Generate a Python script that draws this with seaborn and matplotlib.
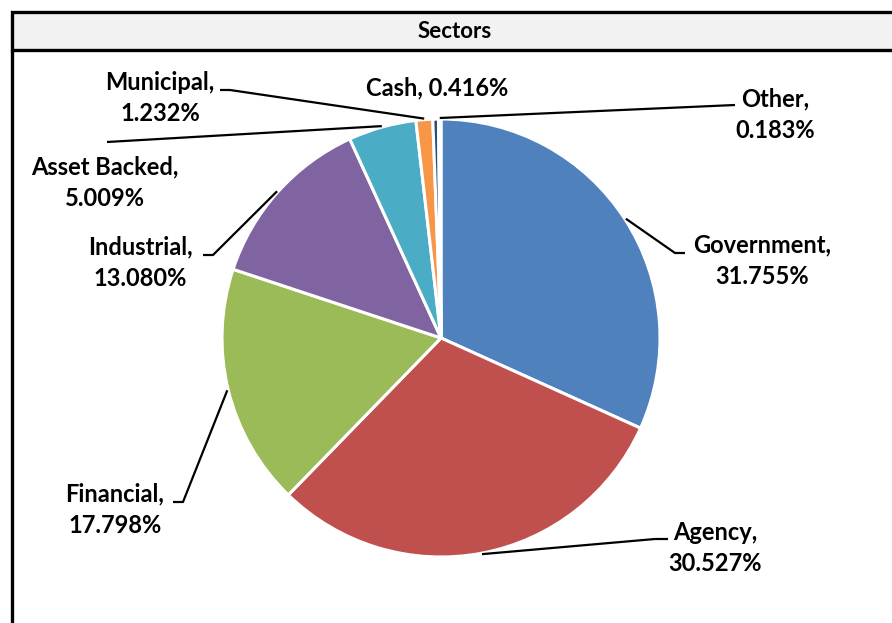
import numpy as np
import matplotlib
matplotlib.use("Agg")
import matplotlib.pyplot as plt
from matplotlib.patches import Rectangle
import seaborn as sns

# Sector allocation (%)
sectors = ["Government", "Agency", "Financial", "Industrial",
           "Asset Backed", "Municipal", "Cash", "Other"]
weights = [31.755, 30.527, 17.798, 13.080, 5.009, 1.232, 0.416, 0.183]
slice_colors = ["#4F81BD", "#C0504D", "#9BBB59", "#8064A2",
                "#4BACC6", "#F79646", "#2C4D75", "#772C2A"]
title = "Sectors"

sns.set_theme(style="white")
plt.rcParams["font.family"] = ["Lato", "DejaVu Sans"]

W, H = 892, 623
fig = plt.figure(figsize=(W / 100, H / 100), dpi=100)
ax = fig.add_axes([0, 0, 1, 1])

# pixel-like canvas, y measured downward from the top edge
def fy(y):
    return H - y

# frame: header band and left border
ax.add_patch(Rectangle((12, fy(50)), W + 20, 38, facecolor="#F2F2F2",
                       edgecolor="black", linewidth=2.4, zorder=1))
ax.plot([12, 12], [fy(50), -5], color="black", linewidth=2.4, zorder=1)
ax.text(455, fy(32), title, ha="center", va="center", fontsize=16,
        fontweight="bold", color="black", zorder=2)

cx, cy, R = 441, fy(338), 219
palette = sns.color_palette(slice_colors)
wedges, _ = ax.pie(weights, colors=palette, startangle=90, counterclock=False,
                   center=(cx, cy), radius=R, frame=True,
                   wedgeprops=dict(edgecolor="white", linewidth=2.2))

# label blocks: (text centre, elbow point, tail point or None)
layout = {
    "Government":   ((762, 261), (675, 253), (685, 253)),
    "Agency":       ((715, 548), (655, 539), (668, 539)),
    "Financial":    ((115, 510), (183, 502), (173, 502)),
    "Industrial":   ((140, 263), (213, 255), (203, 255)),
    "Asset Backed": ((105, 183), (107, 142), None),
    "Municipal":    ((160, 98), (230, 90), (220, 90)),
    "Cash":         ((437, 88), None, None),
    "Other":        ((775, 115), (735, 105), None),
}

total = sum(weights)
start = 90.0
for name, w in zip(sectors, weights):
    span = w / total * 360.0
    mid = np.deg2rad(start - span / 2)
    start -= span
    (tx, ty), elbow, tail = layout[name]
    if name == "Cash":
        txt = f"{name}, {w:.3f}%"
    else:
        txt = f"{name},\n{w:.3f}%"
    ax.text(tx, fy(ty), txt, ha="center", va="center", fontsize=17,
            fontweight="bold", color="black", linespacing=1.45, zorder=5)
    if elbow is not None:
        ax_x = cx + (R + 1) * np.cos(mid)
        ax_y = cy + (R + 1) * np.sin(mid)
        xs = [ax_x, elbow[0]]
        ys = [ax_y, fy(elbow[1])]
        if tail is not None:
            xs.append(tail[0])
            ys.append(fy(tail[1]))
        ax.plot(xs, ys, color="black", linewidth=1.6, zorder=4,
                solid_capstyle="butt")

ax.set_xlim(0, W)
ax.set_ylim(0, H)
ax.set_aspect("equal")
ax.axis("off")

fig.savefig("out.png", dpi=100, facecolor="white")
